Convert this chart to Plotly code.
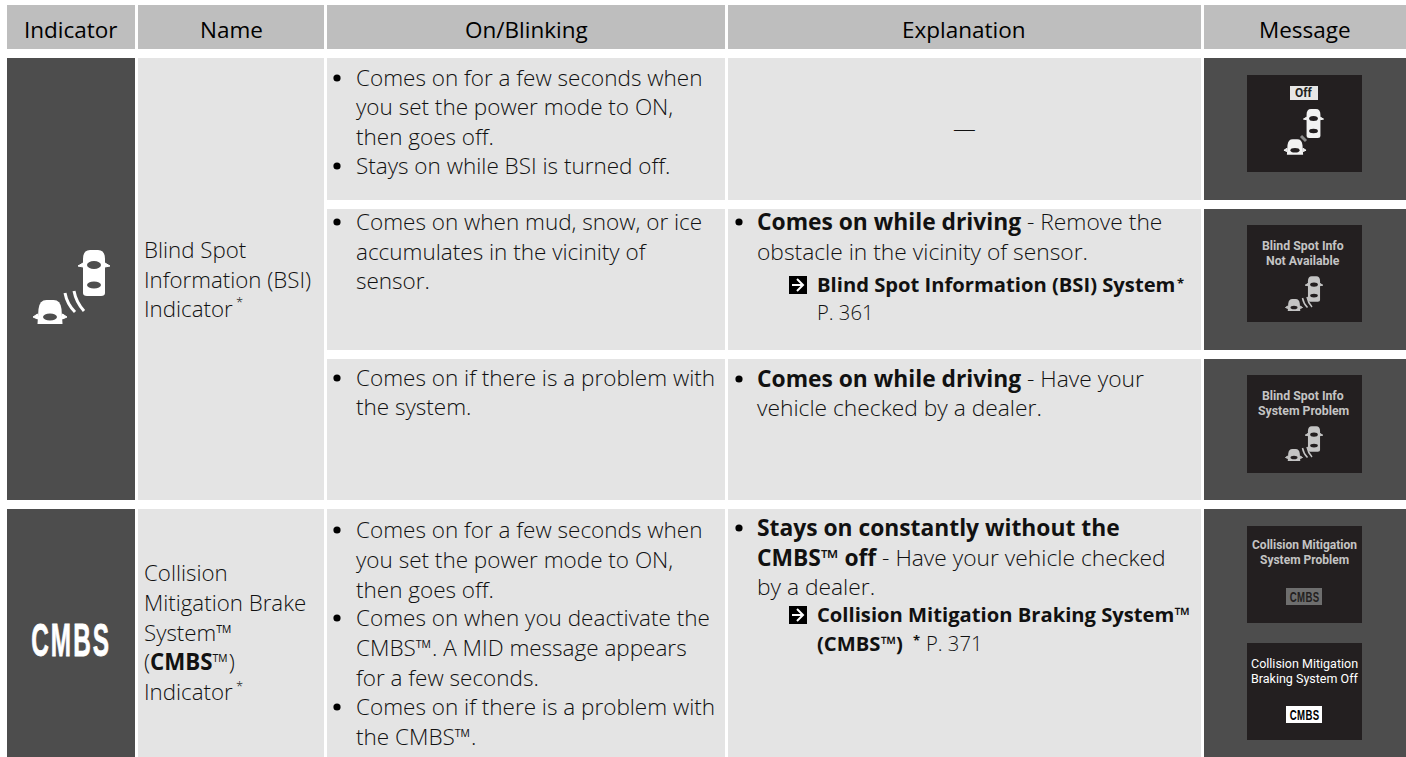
import plotly.graph_objects as go

# ---------- content ----------
HEADERS = ["Indicator", "Name", "On/Blinking", "Explanation", "Message"]
NAME_BSI = ["Blind Spot", "Information (BSI)", "Indicator"]
NAME_CMBS = ["Collision", "Mitigation Brake", "System™", "(<b>CMBS</b>™)", "Indicator"]
ON_ROW1 = ["Comes on for a few seconds when", "you set the power mode to ON,", "then goes off.", "Stays on while BSI is turned off."]
ON_ROW2 = ["Comes on when mud, snow, or ice", "accumulates in the vicinity of", "sensor."]
ON_ROW3 = ["Comes on if there is a problem with", "the system."]
ON_ROW4 = ["Comes on for a few seconds when", "you set the power mode to ON,", "then goes off.", "Comes on when you deactivate the",
           "CMBS™. A MID message appears", "for a few seconds.", "Comes on if there is a problem with", "the CMBS™."]
EX_ROW1 = ["—"]
EX_ROW2 = ["<b>Comes on while driving</b> - Remove the", "obstacle in the vicinity of sensor."]
EX_ROW2_REF = ["<b>Blind Spot Information (BSI) System</b>", "P. 361"]
EX_ROW3 = ["<b>Comes on while driving</b> - Have your", "vehicle checked by a dealer."]
EX_ROW4 = ["<b>Stays on constantly without the</b>", "<b>CMBS™ off</b> - Have your vehicle checked", "by a dealer."]
EX_ROW4_REF = ["<b>Collision Mitigation Braking System™</b>", "<b>(CMBS™)</b>"]
EX_ROW4_PAGE = "P. 371"
STAR = "*"
MSG_OFF = "Off"
MSG_NA = ["Blind Spot Info", "Not Available"]
MSG_PROBLEM = ["Blind Spot Info", "System Problem"]
MSG_CMBS_PROBLEM = ["Collision Mitigation", "System Problem"]
MSG_CMBS_OFF = ["Collision Mitigation", "Braking System Off"]
CMBS = "CMBS"

# ---------- layout geometry ----------
W, H = 1406, 757
COLS = [(7, 135), (138, 324), (327, 725), (728, 1201), (1204, 1406)]
HEAD_Y = (5, 49)
ROWS = [(58, 200), (209, 350), (359, 500), (509, 757)]
THUMB_X = (1247, 1362)
THUMB_Y = [(75, 172), (225, 322), (375, 473), (526, 623), (643, 740)]
HEAD_CX = [71, 231, 526, 964, 1305]

C_HEAD, C_CELL, C_DARK, C_THUMB = "#bebebe", "#e4e4e4", "#4d4d4d", "#231f20"
TXT = "#111111"
FONT = "Open Sans"
FS_NAME, FS_ON, FS_EX, FS_REF = 22.3, 22.5, 22.8, 20.2

shapes, annots = [], []


def rect(x0, y0, x1, y1, fill, layer="below"):
    shapes.append(dict(type="rect", x0=x0, y0=y0, x1=x1, y1=y1, fillcolor=fill, line_width=0, layer=layer))


def path(d, fill=None, stroke=None, w=0):
    s = dict(type="path", path=d, layer="above", line=dict(width=w, color=stroke or "rgba(0,0,0,0)"))
    if fill:
        s["fillcolor"] = fill
    shapes.append(s)


def text(x, y, s, size=22, color=TXT, anchor="left", family=FONT, weight=300):
    annots.append(dict(x=x, y=y, text=s, xref="x", yref="y", showarrow=False, xanchor=anchor, yanchor="middle",
                       align=anchor, font=dict(family=family, size=size, color=color, weight=weight), borderpad=0, borderwidth=0))


def bullet(x, y):
    r = 3.6
    shapes.append(dict(type="circle", x0=x - r, x1=x + r, y0=y - r, y1=y + r, fillcolor="#000", line_width=0))


def ellipse(cx, cy, rx, ry, fill):
    shapes.append(dict(type="circle", x0=cx - rx, x1=cx + rx, y0=cy - ry, y1=cy + ry, fillcolor=fill, line_width=0, layer="above"))


def car_top(cx, cy, k, color, bg):
    """Top view of a car, 46*k tall."""
    hw, hh = 11 * k, 23 * k
    path(f"M{cx-hw},{cy+hh-3*k} L{cx-hw},{cy-hh+9*k} Q{cx-hw},{cy-hh} {cx-hw+7*k},{cy-hh} L{cx+hw-7*k},{cy-hh} "
         f"Q{cx+hw},{cy-hh} {cx+hw},{cy-hh+9*k} L{cx+hw},{cy+hh-3*k} Q{cx+hw},{cy+hh} {cx+hw-4*k},{cy+hh} "
         f"L{cx-hw+4*k},{cy+hh} Q{cx-hw},{cy+hh} {cx-hw},{cy+hh-3*k} Z", fill=color)
    path(f"M{cx-16*k},{cy-7*k} L{cx-11*k},{cy-10*k} L{cx-11*k},{cy-6*k} Z M{cx+16*k},{cy-7*k} L{cx+11*k},{cy-10*k} L{cx+11*k},{cy-6*k} Z",
         fill=color, stroke=color, w=1)
    ellipse(cx, cy - 8 * k, 7 * k, 4 * k, bg)
    ellipse(cx, cy + 12 * k, 7 * k, 3.5 * k, bg)


def car_front(cx, cy, k, color, bg):
    """Car seen cut off at the bottom, 24*k tall."""
    hw, hh = 12.5 * k, 12 * k
    path(f"M{cx-hw},{cy+hh} L{cx-hw+1*k},{cy-hh+9*k} Q{cx-hw+2*k},{cy-hh} {cx-hw+9*k},{cy-hh} L{cx+hw-9*k},{cy-hh} "
         f"Q{cx+hw-2*k},{cy-hh} {cx+hw-1*k},{cy-hh+9*k} L{cx+hw},{cy+hh} Z", fill=color)
    path(f"M{cx-17*k},{cy+5*k} L{cx-hw},{cy+2*k} L{cx-hw},{cy+7*k} Z M{cx+17*k},{cy+5*k} L{cx+hw},{cy+2*k} L{cx+hw},{cy+7*k} Z",
         fill=color, stroke=color, w=1)
    ellipse(cx, cy + 5 * k, 7 * k, 3.5 * k, bg)


def waves(x, y, k, color, w):
    path(f"M{x-5*k},{y-12*k} Q{x-3*k},{y-1*k} {x+5*k},{y+7*k}", stroke=color, w=w)
    path(f"M{x+4*k},{y-14*k} Q{x+6*k},{y-3*k} {x+14*k},{y+6*k}", stroke=color, w=w)


def arrow_box(x, y):
    rect(x, y, x + 18, y + 18, "#000", layer="above")
    path(f"M{x+3},{y+9} L{x+14},{y+9} M{x+8},{y+3} L{x+14},{y+9} L{x+8},{y+15}", stroke="#fff", w=2)


def lines(x, ys, rows, **kw):
    for y, s in zip(ys, rows):
        text(x, y, s, **kw)


# ---------- table grid ----------
for (x0, x1), cx, h in zip(COLS, HEAD_CX, HEADERS):
    rect(x0, HEAD_Y[0], x1, HEAD_Y[1], C_HEAD)
    text(cx, 29, h, size=22.5, color="#000", anchor="center", weight=400)

rect(COLS[0][0], ROWS[0][0], COLS[0][1], ROWS[2][1], C_DARK)
rect(COLS[0][0], ROWS[3][0], COLS[0][1], ROWS[3][1], C_DARK)
rect(COLS[1][0], ROWS[0][0], COLS[1][1], ROWS[2][1], C_CELL)
rect(COLS[1][0], ROWS[3][0], COLS[1][1], ROWS[3][1], C_CELL)
for (y0, y1) in ROWS:
    rect(COLS[2][0], y0, COLS[2][1], y1, C_CELL)
    rect(COLS[3][0], y0, COLS[3][1], y1, C_CELL)
    rect(COLS[4][0], y0, COLS[4][1], y1, C_DARK)
for (y0, y1) in THUMB_Y:
    rect(THUMB_X[0], y0, THUMB_X[1], y1, C_THUMB)

# ---------- name column ----------
lines(144, [249, 279, 308], NAME_BSI, size=FS_NAME)
text(236, 302, STAR, size=13)
lines(144, [572, 602, 632, 661, 691], NAME_CMBS, size=FS_NAME)
text(236, 686, STAR, size=13)

# ---------- on/blinking column ----------
X3, B3 = 356, 337
lines(X3, [77, 106, 136, 165], ON_ROW1, size=FS_ON)
lines(X3, [221, 251, 280], ON_ROW2, size=FS_ON)
lines(X3, [377, 406], ON_ROW3, size=FS_ON)
lines(X3, [529, 559, 589, 617, 647, 677, 706, 736], ON_ROW4, size=FS_ON)
for y in [78, 166, 222, 378, 530, 618, 707]:
    bullet(B3, y)

# ---------- explanation column ----------
X4, B4, XR = 757, 739, 817
text(964, 128, EX_ROW1[0], size=FS_EX, anchor="center")
lines(X4, [221, 251], EX_ROW2, size=FS_EX)
lines(XR, [284, 312], EX_ROW2_REF, size=FS_REF)
text(1177, 283, f"<b>{STAR}</b>", size=13)
arrow_box(789, 276)
lines(X4, [378, 407], EX_ROW3, size=FS_EX)
lines(X4, [527, 557, 586], EX_ROW4, size=FS_EX)
lines(XR, [614, 643], EX_ROW4_REF, size=FS_REF)
text(913, 640, f"<b>{STAR}</b>", size=13)
text(926, 643, EX_ROW4_PAGE, size=FS_REF)
arrow_box(789, 606)
for y in [222, 379, 528]:
    bullet(B4, y)

# ---------- indicator icons ----------
car_top(94, 273, 1, "#fff", C_DARK)
car_front(50, 312, 1, "#fff", C_DARK)
waves(70, 305, 1, "#fff", 3)
text(71, 639, f"<b>{CMBS}</b>", size=47, color="#fff", anchor="center", family="Liberation Sans", weight=400)

# ---------- message thumbnails ----------
MX = 1303
TF = dict(anchor="center", family="Roboto", weight=400)
rect(1290, 86, 1318, 100, "#e6e6e6", layer="above")
text(1304, 93, f"<b>{MSG_OFF}</b>", size=12, color="#231f20", **TF)
car_top(1313.5, 123.5, 0.63, "#f2f2f2", C_THUMB)
car_front(1295, 147, 0.65, "#f2f2f2", C_THUMB)
path("M1301,136 L1306,141", stroke="#8a8a8a", w=3)

GREY = "#c4c4c4"
MFS = 12.3
lines(MX, [246, 261], [f"<b>{s}</b>" for s in MSG_NA], size=MFS, color=GREY, **TF)
car_top(1314, 289, 0.55, GREY, C_THUMB)
car_front(1294, 305, 0.5, GREY, C_THUMB)
waves(1305, 304, 0.5, GREY, 1.5)

lines(MX, [396, 411], [f"<b>{s}</b>" for s in MSG_PROBLEM], size=MFS, color=GREY, **TF)
car_top(1314, 439, 0.55, GREY, C_THUMB)
car_front(1294, 455, 0.5, GREY, C_THUMB)
waves(1305, 454, 0.5, GREY, 1.5)

lines(1304, [545, 560], [f"<b>{s}</b>" for s in MSG_CMBS_PROBLEM], size=12, color=GREY, **TF)
rect(1286, 588, 1322, 605, "#6e6e6e", layer="above")
text(1304, 597, f"<b>{CMBS}</b>", size=14, color="#231f20", anchor="center", family="Liberation Sans", weight=400)

lines(1304, [663, 678], MSG_CMBS_OFF, size=12.5, color="#ffffff", **TF)
rect(1286, 706, 1322, 723, "#ffffff", layer="above")
text(1304, 715, f"<b>{CMBS}</b>", size=14, color="#000", anchor="center", family="Liberation Sans", weight=400)

fig = go.Figure()
fig.update_layout(
    width=W, height=H, margin=dict(l=0, r=0, t=0, b=0),
    paper_bgcolor="#fff", plot_bgcolor="#fff", showlegend=False,
    xaxis=dict(range=[0, W], visible=False, fixedrange=True),
    yaxis=dict(range=[H, 0], visible=False, fixedrange=True),
    shapes=shapes, annotations=annots,
)

# The CMBS lettering is a heavily condensed face: squeeze real text to the reference's width.
POST = """
document.body.style.margin='0';document.body.style.overflow='hidden';
function squeeze(){
  document.querySelectorAll('.annotation-text').forEach(function(t){
    if(t.textContent!=='CMBS')return;
    var big=parseFloat(t.style.fontSize)>30;
    t.style.letterSpacing=big?'4px':'0.6px';
    if(big){t.style.stroke='#fff';t.style.strokeWidth='0.8px';}
    var b=t.getBBox(),cx=b.x+b.width/2,target=big?80:30;
    t.setAttribute('transform','translate('+cx+' 0) scale('+(target/b.width)+' 1) translate('+(-cx)+' 0)');
  });
}
squeeze();setTimeout(squeeze,150);
"""
fig.write_html("out.html", config={"displayModeBar": False, "staticPlot": True}, post_script=POST)
